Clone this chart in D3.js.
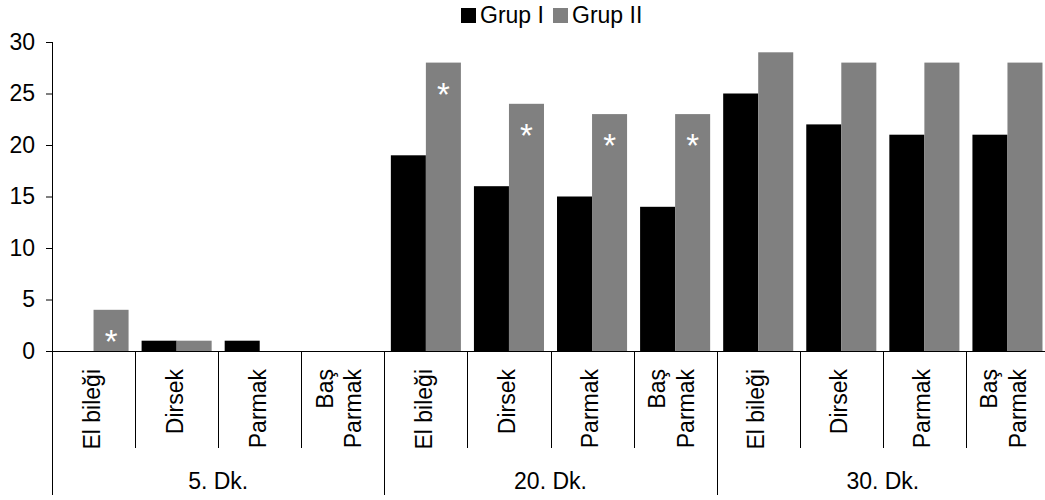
<!DOCTYPE html>
<html><head><meta charset="utf-8">
<script src="https://cdn.jsdelivr.net/npm/d3@7"></script>
<style>
body{margin:0;background:#fff;}
text{font-family:"Liberation Sans",Arial,sans-serif;fill:#000;}
</style></head>
<body><svg id="chart" width="1045" height="500"></svg>
<script>
const groups = ["5. Dk.", "20. Dk.", "30. Dk."];
const parts = [["El bileği"], ["Dirsek"], ["Parmak"], ["Baş", "Parmak"]];
const seriesNames = ["Grup I", "Grup II"];
const grupI = [0, 1, 1, 0, 19, 16, 15, 14, 25, 22, 21, 21];
const grupII = [4, 1, 0, 0, 28, 24, 23, 23, 29, 28, 28, 28];
const starsII = [1, 0, 0, 0, 1, 1, 1, 1, 0, 0, 0, 0];
const yTicks = [0, 5, 10, 15, 20, 25, 30];
const colors = ["#000000", "#808080"];

const FS = "23px";
const svg = d3.select("#chart");
const mLeft = 52, mRight = 1049, mTop = 42, mBottom = 351;
const cats = d3.range(groups.length * parts.length);
const x = d3.scaleBand().domain(cats).range([mLeft, mRight]).padding(0);
const xs = d3.scaleBand().domain([0, 1]).range([0, x.bandwidth()]).paddingInner(0).paddingOuter(0.186);
const y = d3.scaleLinear().domain([0, 30]).range([mBottom, mTop]);
const gx = d3.scaleBand().domain(d3.range(groups.length)).range([mLeft, mRight]).padding(0);

// bars
const series = [grupI, grupII];
series.forEach((vals, si) => {
  svg.append("g").selectAll("rect").data(vals).join("rect")
    .attr("x", (d, i) => x(i) + xs(si))
    .attr("width", xs.bandwidth())
    .attr("y", d => y(d))
    .attr("height", d => mBottom - y(d))
    .attr("fill", colors[si]);
});
// asterisks
svg.append("g").selectAll("text").data(grupII.map((v, i) => ({v, i, s: starsII[i]})).filter(d => d.s))
  .join("text")
  .attr("x", d => x(d.i) + xs(1) + xs.bandwidth() / 2)
  .attr("y", d => y(d.v) + 43)
  .attr("text-anchor", "middle")
  .style("font-size", "33px")
  .style("fill", "#fff")
  .text("*");

// y axis
const yAxis = d3.axisLeft(y).tickValues(yTicks).tickSize(6).tickPadding(11);
const ya = svg.append("g").attr("transform", `translate(${mLeft},0)`).call(yAxis);
ya.select(".domain").attr("d", `M0.5,${mTop}V${mBottom}`).attr("stroke", "#000");
ya.selectAll(".tick line").attr("stroke", "#000").attr("x1", 0.5).attr("x2", -6);
ya.selectAll(".tick text").style("font-size", FS).style("font-family", "Liberation Sans, Arial, sans-serif").attr("fill", "#000");

// x axis base line
svg.append("line").attr("x1", mLeft - 6).attr("x2", 1045).attr("y1", mBottom + 0.5).attr("y2", mBottom + 0.5).attr("stroke", "#000");
// category separators
svg.append("g").selectAll("line").data(cats.slice(1)).join("line")
  .attr("x1", d => Math.round(x(d)) + 0.5).attr("x2", d => Math.round(x(d)) + 0.5)
  .attr("y1", mBottom).attr("y2", 448).attr("stroke", "#000");
// group separators
svg.append("g").selectAll("line").data(d3.range(groups.length + 1)).join("line")
  .attr("x1", d => Math.round(d < groups.length ? gx(d) : mRight) + 0.5)
  .attr("x2", d => Math.round(d < groups.length ? gx(d) : mRight) + 0.5)
  .attr("y1", mBottom).attr("y2", 495).attr("stroke", "#000");

// category labels
cats.forEach(i => {
  const lines = parts[i % parts.length];
  const cx = x(i) + x.bandwidth() / 2;
  const offs = lines.length === 1 ? [6] : [-10, 18.5];
  lines.forEach((t, li) => {
    svg.append("text")
      .attr("transform", `translate(${cx + offs[li]},369) rotate(-90)`)
      .attr("text-anchor", "end")
      .style("font-size", FS)
      .text(t);
  });
});
// group labels
svg.append("g").selectAll("text").data(groups).join("text")
  .attr("x", (d, i) => gx(i) + gx.bandwidth() / 2)
  .attr("y", 489)
  .attr("text-anchor", "middle")
  .style("font-size", FS)
  .text(d => d);

// legend
const legend = svg.append("g");
const lx = [461, 553];
seriesNames.forEach((n, i) => {
  legend.append("rect").attr("x", lx[i]).attr("y", 8).attr("width", 15).attr("height", 15).attr("fill", colors[i]);
  legend.append("text").attr("x", lx[i] + 19).attr("y", 23).style("font-size", FS).text(n);
});
</script></body></html>
